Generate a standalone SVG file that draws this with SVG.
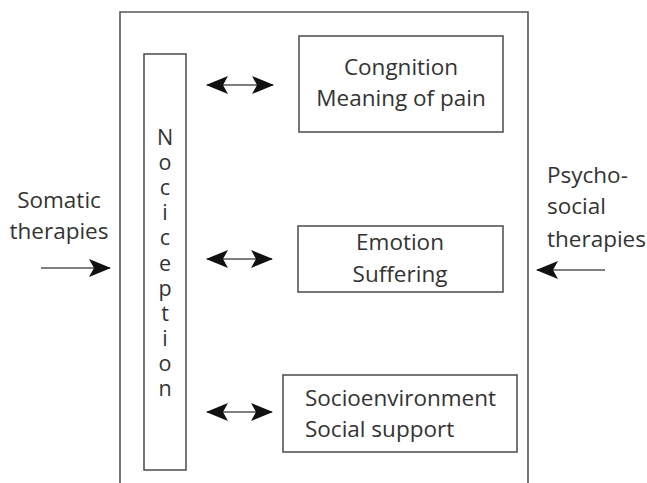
<svg xmlns="http://www.w3.org/2000/svg" width="647" height="483" viewBox="0 0 647 483">
<style>
.box{fill:none;stroke:#555;stroke-width:1.6}
.t{font-family:"Open Sans","Noto Sans",sans-serif;font-size:22.5px;fill:#333}
.c{text-anchor:middle}
.v{font-family:"Open Sans","Noto Sans",sans-serif;font-size:21.5px;fill:#333;writing-mode:vertical-lr;text-orientation:upright;letter-spacing:-3.9px}
.ln{stroke:#555;stroke-width:1.6;fill:none}
</style>
<defs>
<marker id="ah" viewBox="0 0 22 18" refX="21" refY="9" markerWidth="22" markerHeight="18" markerUnits="userSpaceOnUse" orient="auto-start-reverse">
<path d="M0,0 L22,9 L0,18 L5,9 Z" fill="#111"/>
</marker>
</defs>
<rect width="647" height="483" fill="#fff"/>
<g id="outer"><path class="box" d="M120,490 V12 H528 V490"/></g>
<g id="nociception">
<rect class="box" x="144" y="54" width="42" height="416"/>
<text class="v" x="165" y="122">Nociception</text>
</g>
<g id="cognition">
<rect class="box" x="299" y="36" width="204" height="96"/>
<text class="t c" x="401" y="75">Congnition</text>
<text class="t c" x="401" y="106">Meaning of pain</text>
</g>
<g id="emotion">
<rect class="box" x="298" y="226" width="205" height="66"/>
<text class="t c" x="400" y="250">Emotion</text>
<text class="t c" x="400" y="282">Suffering</text>
</g>
<g id="socio">
<rect class="box" x="283" y="375" width="234" height="77"/>
<text class="t" x="305" y="406">Socioenvironment</text>
<text class="t" x="305" y="437">Social support</text>
</g>
<g id="somatic">
<text class="t c" x="59" y="208">Somatic</text>
<text class="t c" x="59" y="239">therapies</text>
</g>
<g id="psychosocial">
<text class="t" x="547" y="183">Psycho-</text>
<text class="t" x="547" y="214">social</text>
<text class="t" x="547" y="247">therapies</text>
</g>
<g id="connectors">
<line class="ln" x1="207" y1="85" x2="273" y2="85" marker-start="url(#ah)" marker-end="url(#ah)"/>
<line class="ln" x1="207" y1="259" x2="272" y2="259" marker-start="url(#ah)" marker-end="url(#ah)"/>
<line class="ln" x1="207" y1="412" x2="272" y2="412" marker-start="url(#ah)" marker-end="url(#ah)"/>
<line class="ln" x1="41" y1="268" x2="110" y2="268" marker-end="url(#ah)"/>
<line class="ln" x1="605" y1="270" x2="537" y2="270" marker-end="url(#ah)"/>
</g>
</svg>
